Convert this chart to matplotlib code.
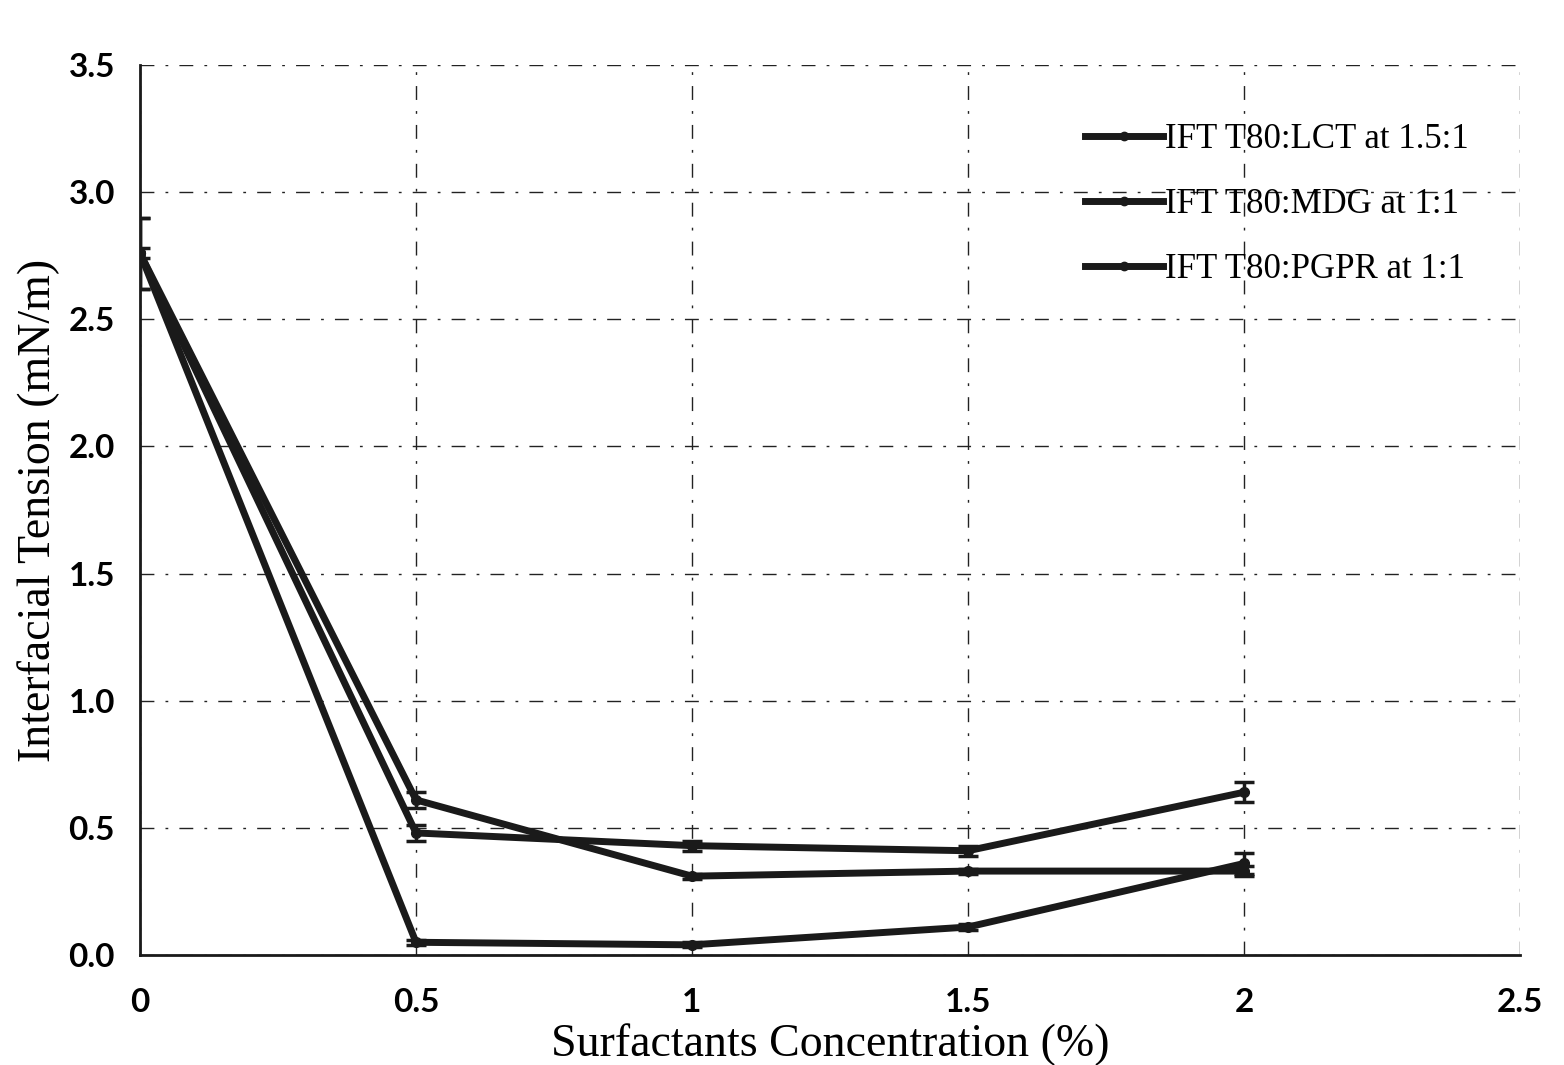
import matplotlib
matplotlib.use("Agg")
from matplotlib import pyplot as plt
from matplotlib.lines import Line2D

# surfactant concentration (%)
conc = [0, 0.5, 1, 1.5, 2]

# interfacial tension (mN/m) and error bars
ift_lct = [2.76, 0.61, 0.31, 0.33, 0.33]
err_lct = [0.14, 0.03, 0.01, 0.01, 0.02]
ift_mdg = [2.76, 0.48, 0.43, 0.41, 0.64]
err_mdg = [0.14, 0.03, 0.02, 0.02, 0.04]
ift_pgpr = [2.76, 0.05, 0.04, 0.11, 0.36]
err_pgpr = [0.02, 0.01, 0.01, 0.01, 0.04]

labels = ["IFT T80:LCT at 1.5:1", "IFT T80:MDG at 1:1", "IFT T80:PGPR at 1:1"]
xticks = [0, 0.5, 1, 1.5, 2, 2.5]
xticklabels = ["0", "0.5", "1", "1.5", "2", "2.5"]
yticks = [0, 0.5, 1.0, 1.5, 2.0, 2.5, 3.0, 3.5]

ink = "#1a1a1a"
serif = "Liberation Serif"

fig = plt.figure(figsize=(15.64, 10.65), dpi=100)
ax = fig.add_axes([140 / 1564, 1 - 955 / 1065, 1380 / 1564, 890 / 1065])

for y, e in zip([ift_lct, ift_mdg, ift_pgpr], [err_lct, err_mdg, err_pgpr]):
    ax.errorbar(conc, y, yerr=e, color=ink, lw=5, marker="o", ms=7,
                capsize=7, capthick=2.5, elinewidth=2.5, zorder=3)

ax.set_xlim(0, 2.5)
ax.set_ylim(0, 3.5)
ax.set_xticks(xticks)
ax.set_xticklabels(xticklabels)
ax.set_yticks(yticks)
ax.set_yticklabels(["%.1f" % v for v in yticks])
ax.tick_params(length=0, labelsize=24)
ax.tick_params(axis="y", pad=18)
ax.tick_params(axis="x", pad=24)
for t in ax.get_xticklabels() + ax.get_yticklabels():
    t.set_fontfamily("Lato")
    t.set_fontweight("bold")

ax.grid(True, color="#222222", lw=1.0, linestyle=(0, (10, 8, 2, 8)))
ax.set_axisbelow(True)
for s in ["top", "right"]:
    ax.spines[s].set_visible(False)
ax.spines["left"].set_linewidth(2)
ax.spines["bottom"].set_linewidth(2)
ax.spines["left"].set_color(ink)
ax.spines["bottom"].set_color(ink)

ax.set_xlabel("Surfactants Concentration (%)", fontsize=33, family=serif, labelpad=4)
ax.set_ylabel("Interfacial Tension (mN/m)", fontsize=33, family=serif, labelpad=6)

handles = [Line2D([], [], color=ink, lw=5, marker="o", ms=6) for _ in labels]
ax.legend(handles, labels, loc="upper left", bbox_to_anchor=(0.662, 0.97), frameon=False,
          prop={"family": serif, "size": 25}, handlelength=2.25,
          handletextpad=0.05, labelspacing=0.92, numpoints=1)

plt.savefig("out.png", dpi=100)
